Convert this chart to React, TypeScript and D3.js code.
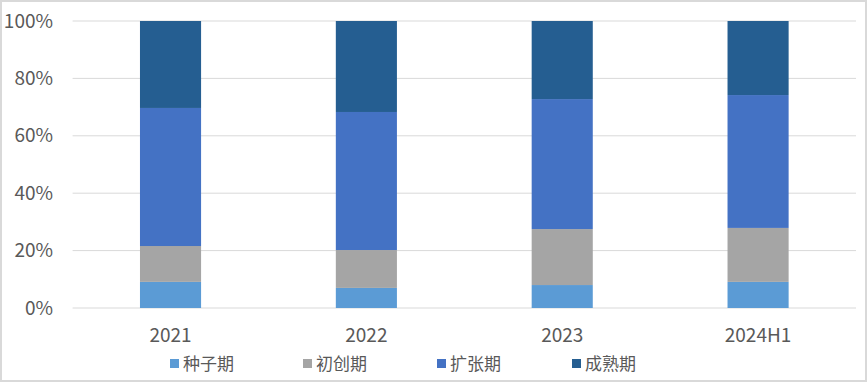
import React, { useEffect } from "react";
import * as d3 from "d3";

const categories = ["2021", "2022", "2023", "2024H1"];
const seriesNames = ["种子期", "初创期", "扩张期", "成熟期"];
const seed = [9.1, 7.0, 8.0, 9.1];
const initial = [12.5, 13.2, 19.5, 18.8];
const expansion = [48.1, 48.1, 45.3, 46.3];
const mature = [30.3, 31.7, 27.2, 25.8];
const yTicks = [0, 20, 40, 60, 80, 100];
const colors = ["#5B9BD5", "#A5A5A5", "#4472C4", "#255E91"];

const W = 867, H = 382;
const left = 72.6, right = 856, top = 21, bottom = 308;

export default function App() {
  useEffect(() => { document.body.style.margin = "0"; }, []);
  const x = d3.scaleBand().domain(categories).range([left, right]).paddingInner(0.688).paddingOuter(0.344);
  const y = d3.scaleLinear().domain([0, 100]).range([bottom, top]);
  const rows = categories.map((c, i) => ({ cat: c, s0: seed[i], s1: initial[i], s2: expansion[i], s3: mature[i] }));
  const stack = d3.stack<any>().keys(["s0", "s1", "s2", "s3"])(rows);
  const font = "'Noto Sans CJK SC', 'Noto Sans', sans-serif";
  const legendX = [170, 303, 437, 572];
  return (
    <svg width={W} height={H} style={{ position: "absolute", left: 0, top: 0, fontFamily: font }}>
      <rect x={0} y={0} width={W} height={H} fill="#fff" />
      <rect x={1} y={1} width={W - 2} height={H - 2} fill="none" stroke="#D9D9D9" strokeWidth={2} />
      {yTicks.map(t => (
        <g key={t}>
          <line x1={left} x2={right} y1={y(t)} y2={y(t)} stroke="#D9D9D9" strokeWidth={1} />
          <text x={53} y={y(t)} dy="0.35em" textAnchor="end" fontSize={19} fill="#595959">{t}%</text>
        </g>
      ))}
      {stack.map((layer, li) => (
        <g key={li} fill={colors[li]}>
          {layer.map((d: any, i: number) => (
            <rect key={i} x={x(categories[i])} width={x.bandwidth()} y={y(d[1])} height={y(d[0]) - y(d[1])} />
          ))}
        </g>
      ))}
      {categories.map(c => (
        <text key={c} x={(x(c) as number) + x.bandwidth() / 2} y={335} dy="0.35em" textAnchor="middle" fontSize={19} fill="#595959">{c}</text>
      ))}
      {seriesNames.map((n, i) => (
        <g key={n}>
          <rect x={legendX[i]} y={359} width={9} height={9} fill={colors[i]} />
          <text x={legendX[i] + 13} y={364} dy="0.35em" fontSize={17} fill="#595959">{n}</text>
        </g>
      ))}
    </svg>
  );
}
